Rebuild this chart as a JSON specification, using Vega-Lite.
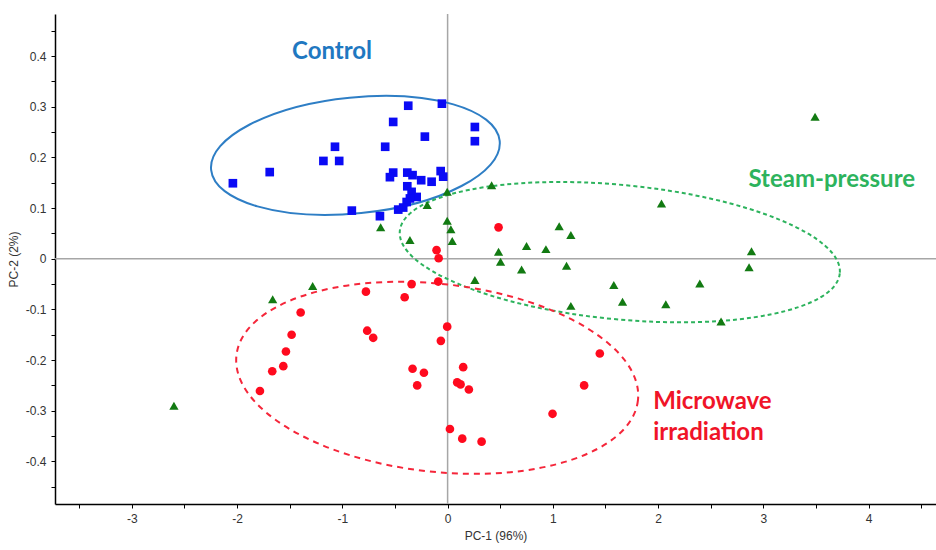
{
  "$schema": "https://vega.github.io/schema/vega-lite/v6.json",
  "width": 881,
  "height": 490,
  "autosize": {"type": "none"},
  "padding": {"left": 55, "top": 14, "right": 0, "bottom": 46},
  "background": "white",
  "config": {
    "view": {"stroke": null},
    "axis": {
      "grid": false,
      "domainColor": "#000000",
      "domainWidth": 1.5,
      "tickColor": "#000000",
      "tickSize": 4,
      "tickWidth": 1,
      "labelFont": "Liberation Sans",
      "labelFontSize": 12,
      "labelColor": "#333333",
      "titleFont": "Liberation Sans",
      "titleFontSize": 12,
      "titleFontWeight": "normal",
      "titleColor": "#333333"
    }
  },
  "datasets": {
    "zero": [{"pc1": 0, "pc2": 0}],
    "ellipses": [
      {"group": "Control", "pc1": -0.876, "pc2": 0.204},
      {"group": "Steam-pressure", "pc1": 1.636, "pc2": 0.013},
      {"group": "Microwave irradiation", "pc1": -0.099, "pc2": -0.235}
    ],
    "labels": [
      {"group": "Control", "label": "Control", "pc1": -1.098, "pc2": 0.408},
      {"group": "Steam-pressure", "label": "Steam-pressure", "pc1": 2.858, "pc2": 0.155},
      {"group": "Microwave irradiation", "label": "Microwave", "pc1": 1.953, "pc2": -0.282},
      {"group": "Microwave irradiation", "label": "irradiation", "pc1": 1.953, "pc2": -0.344}
    ],
    "points": [
      {"group": "Control", "pc1": -2.04, "pc2": 0.149},
      {"group": "Control", "pc1": -1.69, "pc2": 0.171},
      {"group": "Control", "pc1": -1.18, "pc2": 0.193},
      {"group": "Control", "pc1": -1.03, "pc2": 0.193},
      {"group": "Control", "pc1": -1.07, "pc2": 0.221},
      {"group": "Control", "pc1": -0.91, "pc2": 0.095},
      {"group": "Control", "pc1": -0.374, "pc2": 0.302},
      {"group": "Control", "pc1": -0.054, "pc2": 0.306},
      {"group": "Control", "pc1": -0.517, "pc2": 0.27},
      {"group": "Control", "pc1": -0.216, "pc2": 0.241},
      {"group": "Control", "pc1": -0.593, "pc2": 0.221},
      {"group": "Control", "pc1": 0.259, "pc2": 0.26},
      {"group": "Control", "pc1": 0.259, "pc2": 0.232},
      {"group": "Control", "pc1": -0.517, "pc2": 0.17},
      {"group": "Control", "pc1": -0.548, "pc2": 0.161},
      {"group": "Control", "pc1": -0.383, "pc2": 0.17},
      {"group": "Control", "pc1": -0.333, "pc2": 0.165},
      {"group": "Control", "pc1": -0.251, "pc2": 0.155},
      {"group": "Control", "pc1": -0.152, "pc2": 0.152},
      {"group": "Control", "pc1": -0.066, "pc2": 0.173},
      {"group": "Control", "pc1": -0.042, "pc2": 0.162},
      {"group": "Control", "pc1": -0.383, "pc2": 0.143},
      {"group": "Control", "pc1": -0.342, "pc2": 0.132},
      {"group": "Control", "pc1": -0.294, "pc2": 0.122},
      {"group": "Control", "pc1": -0.358, "pc2": 0.119},
      {"group": "Control", "pc1": -0.389, "pc2": 0.112},
      {"group": "Control", "pc1": -0.422, "pc2": 0.101},
      {"group": "Control", "pc1": -0.469, "pc2": 0.097},
      {"group": "Control", "pc1": -0.643, "pc2": 0.084},
      {"group": "Steam-pressure", "pc1": 0.418, "pc2": 0.145},
      {"group": "Steam-pressure", "pc1": -0.004, "pc2": 0.132},
      {"group": "Steam-pressure", "pc1": -0.194, "pc2": 0.106},
      {"group": "Steam-pressure", "pc1": -0.636, "pc2": 0.062},
      {"group": "Steam-pressure", "pc1": -0.004, "pc2": 0.075},
      {"group": "Steam-pressure", "pc1": 0.031, "pc2": 0.058},
      {"group": "Steam-pressure", "pc1": 0.044, "pc2": 0.035},
      {"group": "Steam-pressure", "pc1": -0.358, "pc2": 0.037},
      {"group": "Steam-pressure", "pc1": 0.484, "pc2": 0.014},
      {"group": "Steam-pressure", "pc1": 0.503, "pc2": -0.006},
      {"group": "Steam-pressure", "pc1": 0.75, "pc2": 0.025},
      {"group": "Steam-pressure", "pc1": 0.934, "pc2": 0.019},
      {"group": "Steam-pressure", "pc1": 0.703, "pc2": -0.021},
      {"group": "Steam-pressure", "pc1": 1.06, "pc2": 0.064},
      {"group": "Steam-pressure", "pc1": 1.171, "pc2": 0.047},
      {"group": "Steam-pressure", "pc1": 1.13, "pc2": -0.014},
      {"group": "Steam-pressure", "pc1": 0.259, "pc2": -0.042},
      {"group": "Steam-pressure", "pc1": 2.032, "pc2": 0.109},
      {"group": "Steam-pressure", "pc1": 2.887, "pc2": 0.015},
      {"group": "Steam-pressure", "pc1": 2.864, "pc2": -0.017},
      {"group": "Steam-pressure", "pc1": 1.579, "pc2": -0.052},
      {"group": "Steam-pressure", "pc1": 2.396, "pc2": -0.049},
      {"group": "Steam-pressure", "pc1": 1.662, "pc2": -0.085},
      {"group": "Steam-pressure", "pc1": 2.073, "pc2": -0.09},
      {"group": "Steam-pressure", "pc1": 1.171, "pc2": -0.093},
      {"group": "Steam-pressure", "pc1": 2.598, "pc2": -0.124},
      {"group": "Steam-pressure", "pc1": 3.491, "pc2": 0.28},
      {"group": "Steam-pressure", "pc1": -2.6, "pc2": -0.29},
      {"group": "Steam-pressure", "pc1": -1.662, "pc2": -0.08},
      {"group": "Steam-pressure", "pc1": -1.282, "pc2": -0.054},
      {"group": "Microwave irradiation", "pc1": -1.783, "pc2": -0.261},
      {"group": "Microwave irradiation", "pc1": -1.666, "pc2": -0.222},
      {"group": "Microwave irradiation", "pc1": -1.561, "pc2": -0.212},
      {"group": "Microwave irradiation", "pc1": -1.536, "pc2": -0.183},
      {"group": "Microwave irradiation", "pc1": -1.482, "pc2": -0.15},
      {"group": "Microwave irradiation", "pc1": -1.396, "pc2": -0.106},
      {"group": "Microwave irradiation", "pc1": -0.776, "pc2": -0.065},
      {"group": "Microwave irradiation", "pc1": -0.764, "pc2": -0.142},
      {"group": "Microwave irradiation", "pc1": -0.707, "pc2": -0.156},
      {"group": "Microwave irradiation", "pc1": -0.342, "pc2": -0.05},
      {"group": "Microwave irradiation", "pc1": -0.408, "pc2": -0.076},
      {"group": "Microwave irradiation", "pc1": -0.089, "pc2": -0.045},
      {"group": "Microwave irradiation", "pc1": -0.333, "pc2": -0.217},
      {"group": "Microwave irradiation", "pc1": -0.225, "pc2": -0.225},
      {"group": "Microwave irradiation", "pc1": -0.289, "pc2": -0.25},
      {"group": "Microwave irradiation", "pc1": -0.064, "pc2": -0.162},
      {"group": "Microwave irradiation", "pc1": -0.004, "pc2": -0.134},
      {"group": "Microwave irradiation", "pc1": 0.148, "pc2": -0.214},
      {"group": "Microwave irradiation", "pc1": 0.091, "pc2": -0.244},
      {"group": "Microwave irradiation", "pc1": 0.123, "pc2": -0.248},
      {"group": "Microwave irradiation", "pc1": 0.202, "pc2": -0.258},
      {"group": "Microwave irradiation", "pc1": 0.022, "pc2": -0.336},
      {"group": "Microwave irradiation", "pc1": 0.139, "pc2": -0.355},
      {"group": "Microwave irradiation", "pc1": 0.323, "pc2": -0.361},
      {"group": "Microwave irradiation", "pc1": 0.997, "pc2": -0.306},
      {"group": "Microwave irradiation", "pc1": 1.297, "pc2": -0.25},
      {"group": "Microwave irradiation", "pc1": 1.446, "pc2": -0.187},
      {"group": "Microwave irradiation", "pc1": 0.484, "pc2": 0.062},
      {"group": "Microwave irradiation", "pc1": -0.105, "pc2": 0.017},
      {"group": "Microwave irradiation", "pc1": -0.085, "pc2": 0.001}
    ]
  },
  "layer": [
    {
      "data": {"name": "zero"},
      "mark": {"type": "rule", "color": "#a6a6a6", "strokeWidth": 1.5},
      "encoding": {
        "x": {"field": "pc1", "type": "quantitative", "scale": {"domain": [-3.73, 4.64], "nice": false, "zero": false}}
      }
    },
    {
      "data": {"name": "zero"},
      "mark": {"type": "rule", "color": "#a6a6a6", "strokeWidth": 1.5},
      "encoding": {
        "y": {"field": "pc2", "type": "quantitative", "scale": {"domain": [-0.484, 0.483], "nice": false, "zero": false}}
      }
    },
    {
      "data": {"name": "ellipses"},
      "transform": [{"filter": "datum.group == 'Control'"}],
      "mark": {"type": "point", "filled": false, "opacity": 1, "color": "#2E7EC5", "strokeWidth": 2, "size": 84100, "angle": 354.3,
        "shape": "M 1 0 C 1 0.221 0.5523 0.4 0 0.4 C -0.5523 0.4 -1 0.221 -1 0 C -1 -0.221 -0.5523 -0.4 0 -0.4 C 0.5523 -0.4 1 -0.221 1 0 Z"},
      "encoding": {
        "x": {"field": "pc1", "type": "quantitative", "scale": {"domain": [-3.73, 4.64], "nice": false, "zero": false}},
        "y": {"field": "pc2", "type": "quantitative", "scale": {"domain": [-0.484, 0.483], "nice": false, "zero": false}}
      }
    },
    {
      "data": {"name": "ellipses"},
      "transform": [{"filter": "datum.group == 'Steam-pressure'"}],
      "mark": {"type": "point", "filled": false, "opacity": 1, "color": "#2DB35D", "strokeWidth": 2, "strokeDash": [4, 3], "size": 195364, "angle": 5.5,
        "shape": "M 1 0 C 1 0.1677 0.5523 0.304 0 0.304 C -0.5523 0.304 -1 0.1677 -1 0 C -1 -0.1677 -0.5523 -0.304 0 -0.304 C 0.5523 -0.304 1 -0.1677 1 0 Z"},
      "encoding": {
        "x": {"field": "pc1", "type": "quantitative", "scale": {"domain": [-3.73, 4.64], "nice": false, "zero": false}},
        "y": {"field": "pc2", "type": "quantitative", "scale": {"domain": [-0.484, 0.483], "nice": false, "zero": false}}
      }
    },
    {
      "data": {"name": "ellipses"},
      "transform": [{"filter": "datum.group == 'Microwave irradiation'"}],
      "mark": {"type": "point", "filled": false, "opacity": 1, "color": "#F5263A", "strokeWidth": 2, "strokeDash": [6, 5], "size": 163216, "angle": 6.4,
        "shape": "M 1 0 C 1 0.2569 0.5523 0.465 0 0.465 C -0.5523 0.465 -1 0.2569 -1 0 C -1 -0.2569 -0.5523 -0.465 0 -0.465 C 0.5523 -0.465 1 -0.2569 1 0 Z"},
      "encoding": {
        "x": {"field": "pc1", "type": "quantitative", "scale": {"domain": [-3.73, 4.64], "nice": false, "zero": false}},
        "y": {"field": "pc2", "type": "quantitative", "scale": {"domain": [-0.484, 0.483], "nice": false, "zero": false}}
      }
    },
    {
      "data": {"name": "points"},
      "transform": [{"filter": "datum.group == 'Steam-pressure'"}],
      "mark": {"type": "point", "shape": "triangle-up", "filled": true, "opacity": 1, "color": "#127A12", "size": 85},
      "encoding": {
        "x": {"field": "pc1", "type": "quantitative", "scale": {"domain": [-3.73, 4.64], "nice": false, "zero": false}},
        "y": {"field": "pc2", "type": "quantitative", "scale": {"domain": [-0.484, 0.483], "nice": false, "zero": false}}
      }
    },
    {
      "data": {"name": "points"},
      "transform": [{"filter": "datum.group == 'Microwave irradiation'"}],
      "mark": {"type": "point", "shape": "circle", "filled": true, "opacity": 1, "color": "#FF0A1E", "size": 75},
      "encoding": {
        "x": {"field": "pc1", "type": "quantitative", "scale": {"domain": [-3.73, 4.64], "nice": false, "zero": false}},
        "y": {"field": "pc2", "type": "quantitative", "scale": {"domain": [-0.484, 0.483], "nice": false, "zero": false}}
      }
    },
    {
      "data": {"name": "points"},
      "transform": [{"filter": "datum.group == 'Control'"}],
      "mark": {"type": "point", "shape": "square", "filled": true, "opacity": 1, "color": "#0A0AF5", "size": 75},
      "encoding": {
        "x": {"field": "pc1", "type": "quantitative", "scale": {"domain": [-3.73, 4.64], "nice": false, "zero": false},
          "axis": {"title": "PC-1 (96%)", "tickCount": 40, "values": [-3.5, -3, -2.5, -2, -1.5, -1, -0.5, 0, 0.5, 1, 1.5, 2, 2.5, 3, 3.5, 4, 4.5], "labelExpr": "datum.value % 1 != 0 ? '' : (datum.value < 0 ? '-' + (-datum.value) : '' + datum.value)", "labelPadding": 5, "titlePadding": 6, "labelOverlap": false, "labelFlush": false}},
        "y": {"field": "pc2", "type": "quantitative", "scale": {"domain": [-0.484, 0.483], "nice": false, "zero": false},
          "axis": {"title": "PC-2 (2%)", "tickCount": 40, "values": [-0.45, -0.4, -0.35, -0.3, -0.25, -0.2, -0.15, -0.1, -0.05, 0, 0.05, 0.1, 0.15, 0.2, 0.25, 0.3, 0.35, 0.4, 0.45], "labelExpr": "round(datum.value * 20) % 2 != 0 ? '' : '' + (round(datum.value * 10) / 10)", "labelPadding": 5, "titlePadding": 5, "labelOverlap": false, "labelFlush": false}}
      }
    },
    {
      "data": {"name": "labels"},
      "transform": [{"filter": "datum.group == 'Control'"}],
      "mark": {"type": "text", "font": "Lato", "fontWeight": "bold", "fontSize": 24, "align": "center", "baseline": "middle", "color": "#1F78C1"},
      "encoding": {
        "x": {"field": "pc1", "type": "quantitative", "scale": {"domain": [-3.73, 4.64], "nice": false, "zero": false}},
        "y": {"field": "pc2", "type": "quantitative", "scale": {"domain": [-0.484, 0.483], "nice": false, "zero": false}},
        "text": {"field": "label"}
      }
    },
    {
      "data": {"name": "labels"},
      "transform": [{"filter": "datum.group == 'Steam-pressure'"}],
      "mark": {"type": "text", "font": "Lato", "fontWeight": "bold", "fontSize": 24, "align": "left", "baseline": "middle", "color": "#2DB35D"},
      "encoding": {
        "x": {"field": "pc1", "type": "quantitative", "scale": {"domain": [-3.73, 4.64], "nice": false, "zero": false}},
        "y": {"field": "pc2", "type": "quantitative", "scale": {"domain": [-0.484, 0.483], "nice": false, "zero": false}},
        "text": {"field": "label"}
      }
    },
    {
      "data": {"name": "labels"},
      "transform": [{"filter": "datum.group == 'Microwave irradiation'"}],
      "mark": {"type": "text", "font": "Lato", "fontWeight": "bold", "fontSize": 24, "align": "left", "baseline": "middle", "color": "#F01428"},
      "encoding": {
        "x": {"field": "pc1", "type": "quantitative", "scale": {"domain": [-3.73, 4.64], "nice": false, "zero": false}},
        "y": {"field": "pc2", "type": "quantitative", "scale": {"domain": [-0.484, 0.483], "nice": false, "zero": false}},
        "text": {"field": "label"}
      }
    }
  ]
}
